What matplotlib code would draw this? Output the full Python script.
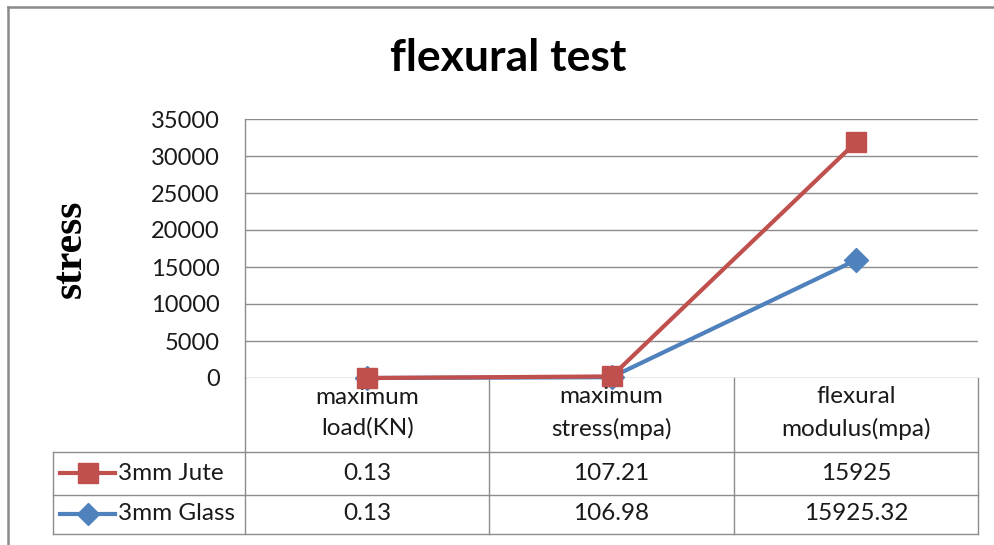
import numpy as np
import matplotlib
matplotlib.use("Agg")
import matplotlib.pyplot as plt
from matplotlib.lines import Line2D
from matplotlib.transforms import blended_transform_factory

# ---- data ----
categories = ["maximum\nload(KN)", "maximum\nstress(mpa)", "flexural\nmodulus(mpa)"]
series_names = ["3mm Jute", "3mm Glass"]
jute = [0.13, 107.21, 15925]
glass = [0.13, 106.98, 15925.32]
yticks = [0, 5000, 10000, 15000, 20000, 25000, 30000, 35000]
title = "flexural test"
ylabel = "stress"

RED = "#C0504D"
BLUE = "#4F81BD"
GRID = "#8C8C8C"
TXT = "#1a1a1a"
FONT = "Lato"

W, H = 994, 545
fig = plt.figure(figsize=(W / 100, H / 100), dpi=100)
fig.patch.set_facecolor("white")

# plot area in pixel layout
L, R, T, B = 245, 978, 119, 378
ax = fig.add_axes([L / W, 1 - B / H, (R - L) / W, (B - T) / H])
ax.set_xlim(-0.5, len(categories) - 0.5)
ax.set_ylim(yticks[0], yticks[-1])
ax.set_yticks(yticks)
ax.set_yticklabels([str(t) for t in yticks], fontfamily=FONT, fontsize=17, color=TXT)
ax.set_xticks([])
ax.tick_params(axis="y", length=0, pad=18)
for s in ["top", "right", "bottom"]:
    ax.spines[s].set_visible(False)
ax.spines["left"].set_color(GRID)
ax.spines["left"].set_linewidth(1.0)
ax.yaxis.grid(True, color=GRID, linewidth=1.0)
ax.set_axisbelow(True)

x = np.arange(len(categories))
glass_arr = np.array(glass)
jute_stacked = glass_arr + np.array(jute)  # stacked line chart

ax.plot(x, glass_arr, color=BLUE, lw=3.0, marker="D", ms=12, mfc=BLUE, mec=BLUE,
        solid_joinstyle="round", clip_on=False, zorder=3)
ax.plot(x, jute_stacked, color=RED, lw=3.0, marker="s", ms=15, mfc=RED, mec=RED,
        solid_joinstyle="round", clip_on=False, zorder=4)

# ---- data table below the plot ----
def ypx(p):
    return (B - p) / (B - T)

def xdata(px):
    return -0.5 + (px - L) / ((R - L) / len(categories))

tr = blended_transform_factory(ax.transData, ax.transAxes)
lk = dict(color=GRID, lw=1.0, transform=tr, clip_on=False)

row_tops = [452, 495, 534]
x_leg = xdata(53)
for yy in row_tops:
    ax.add_line(Line2D([x_leg, len(categories) - 0.5], [ypx(yy), ypx(yy)], **lk))
ax.add_line(Line2D([-0.5, -0.5], [0, ypx(534)], **lk))
for i in range(len(categories)):
    xv = i + 0.5
    ax.add_line(Line2D([xv, xv], [0, ypx(534)], **lk))
ax.add_line(Line2D([x_leg, x_leg], [ypx(452), ypx(534)], **lk))

tk = dict(transform=tr, fontfamily=FONT, fontsize=17.5, color=TXT,
          ha="center", va="center", clip_on=False)
for i, c in enumerate(categories):
    ax.text(i, ypx(413), c, linespacing=1.55, **tk)

def fmt(v):
    return f"{v:.2f}".rstrip("0").rstrip(".")

rows = [(series_names[0], jute, RED, "s", 14), (series_names[1], glass, BLUE, "D", 11)]
centers = [473, 514]
for (name, vals, col, mk, ms), yc in zip(rows, centers):
    for i, v in enumerate(vals):
        ax.text(i, ypx(yc), fmt(v), **tk)
    ax.add_line(Line2D([xdata(60), xdata(115)], [ypx(yc), ypx(yc)], color=col, lw=3.0,
                       transform=tr, clip_on=False))
    ax.add_line(Line2D([xdata(88)], [ypx(yc)], color=col, marker=mk, ms=ms, mfc=col, mec=col,
                       lw=0, transform=tr, clip_on=False))
    ax.text(xdata(118), ypx(yc), name, transform=tr, fontfamily=FONT, fontsize=17.5,
            color=TXT, ha="left", va="center", clip_on=False)

# ---- title and y label ----
fig.text(508 / W, 1 - 58 / H, title, fontfamily=FONT, fontweight="bold", fontsize=32,
         ha="center", va="center", color="black")
fig.text(71 / W, 1 - 249 / H, ylabel, fontfamily="Liberation Serif", fontweight="bold",
         fontsize=30, rotation=90, ha="center", va="center", color="black")

# ---- outer chart border (partially visible) ----
fig.add_artist(Line2D([8 / W, 1.0], [1 - 7 / H, 1 - 7 / H], color="#8A8A8A", lw=1.8,
                      transform=fig.transFigure))
fig.add_artist(Line2D([8 / W, 8 / W], [0, 1 - 7 / H], color="#8A8A8A", lw=1.8,
                      transform=fig.transFigure))

fig.savefig("out.png", dpi=100, facecolor="white")
